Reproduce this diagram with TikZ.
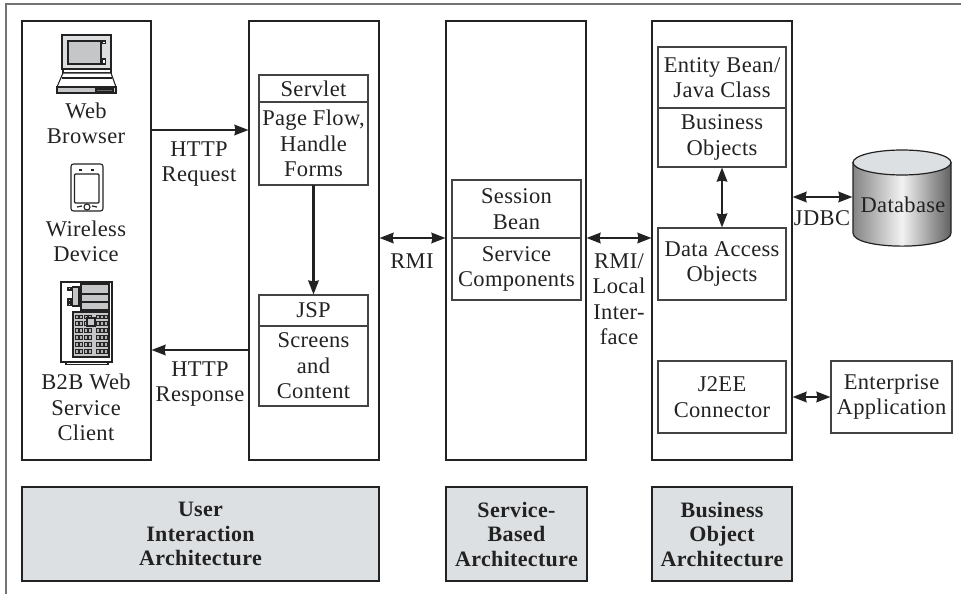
\documentclass[tikz,border=0pt]{standalone}
\usepackage{fontspec}
\setmainfont[LetterSpace=1.5]{Liberation Serif}
\usetikzlibrary{arrows.meta}
\definecolor{ink}{HTML}{222222}
\definecolor{panel}{HTML}{DDE0E2}
\definecolor{iconfill}{HTML}{C4C6C8}
\tikzset{
  txt/.style={text=ink,align=center,inner sep=0pt,outer sep=0pt,font=\fontsize{22.5}{25.5}\selectfont},
  colbox/.style={draw=ink,line width=1.8pt,inner sep=0pt,outer sep=0pt,minimum width=#1,minimum height=439pt},
  ibox/.style={txt,draw=ink!85,line width=1.2pt},
  catbox/.style={txt,draw=ink,line width=1.8pt,fill=panel,font=\fontsize{22}{24.5}\selectfont\bfseries},
  one/.style={ink,line width=2.2pt,-{Stealth[length=14pt,width=10.5pt,inset=1pt]},shorten >=0.5pt},
  two/.style={ink,line width=2.2pt,{Stealth[length=14pt,width=10.5pt,inset=1pt]}-{Stealth[length=14pt,width=10.5pt,inset=1pt]},shorten >=0.5pt,shorten <=0.5pt},
  ico/.style={draw=ink,line width=1.1pt},
}
\begin{document}
\begin{tikzpicture}[x=1pt,y=-1pt]
\useasboundingbox (0,0) rectangle (961,594);
% outer frame
\draw[color=black!55,line width=2pt] (961,4) -- (6,4) -- (6,594);
% columns
\node[colbox=129pt] (c1) at (86.5,240.5) {};
\node[colbox=130pt] (c2) at (314,240.5) {};
\node[colbox=140pt] (c3) at (516,240.5) {};
\node[colbox=140pt] (c4) at (722,240.5) {};
% category boxes
\node[catbox,minimum width=357pt,minimum height=94pt] (k1) at (200.5,534) {User\\Interaction\\Architecture};
\node[catbox,minimum width=141pt,minimum height=94pt] (k2) at (516.5,534) {Service-\\Based\\Architecture};
\node[catbox,minimum width=140pt,minimum height=94pt] (k3) at (722,534) {Business\\Object\\Architecture};
% servlet
\node[ibox,minimum width=109pt,minimum height=27pt] (srvT) at (313.5,88.5) {Servlet};
\node[ibox,minimum width=109pt,minimum height=83pt] (srvB) at (313.5,143.5) {Page Flow,\\Handle\\Forms};
% jsp
\node[ibox,minimum width=109pt,minimum height=31pt] (jspT) at (313.5,310.5) {JSP};
\node[ibox,minimum width=109pt,minimum height=80pt] (jspB) at (313.5,366) {Screens\\and\\Content};
% session
\node[ibox,minimum width=129pt,minimum height=58pt] (sesT) at (516.5,209) {Session\\Bean};
\node[ibox,minimum width=129pt,minimum height=62pt] (sesB) at (516.5,269) {Service\\Components};
% entity
\node[ibox,minimum width=128pt,minimum height=61pt] (entT) at (722,77.5) {Entity Bean/\\Java Class};
\node[ibox,minimum width=128pt,minimum height=59pt] (entB) at (722,137.5) {Business\\Objects};
\node[ibox,minimum width=128pt,minimum height=72pt] (dao) at (722,264) {Data Access\\Objects};
\node[ibox,minimum width=128pt,minimum height=72pt] (j2ee) at (722,397) {J2EE\\Connector};
\node[ibox,minimum width=121pt,minimum height=72pt] (ent) at (891.5,397) {Enterprise\\Application};
% left column labels
\node[txt] (lWeb) at (86,123.5) {Web\\Browser};
\node[txt] (lWire) at (86,241.5) {Wireless\\Device};
\node[txt] (lB2B) at (86,407.5) {B2B Web\\Service\\Client};
% connector labels
\node[txt] (lReq) at (199,164) {HTTP\\Request};
\node[txt] (lResp) at (200,384) {HTTP\\Response};
\node[txt] (lRmi) at (412,261) {RMI};
\node[txt] (lLocal) at (619,299) {RMI/\\Local\\Inter-\\face};
\node[txt] (lJdbc) at (822,218) {JDBC};
% database
\shade[left color=black!48,right color=black!62,middle color=black!5,draw=ink,line width=1.2pt]
  (853,162.5) -- (853,233) .. controls (853,250.5) and (951,250.5) .. (951,233) -- (951,162.5) -- cycle;
\draw[ink,line width=1.2pt,fill=panel] (902,162.5) ellipse[x radius=49,y radius=12.5];
\node[txt] (db) at (903,205) {Database};
\coordinate (dbW) at (853,197);
% arrow levels
\coordinate (yReq) at (0,130);
\coordinate (yResp) at (0,350);
\coordinate (yDb) at (0,197);
\draw[one] (c1.east |- yReq) -- (c2.west |- yReq);
\draw[one] (c2.west |- yResp) -- (c1.east |- yResp);
\draw[one] (srvB.south) -- (jspT.north);
\draw[two] (c2.east |- sesT.south) -- (c3.west |- sesT.south);
\draw[two] (c3.east |- sesT.south) -- (c4.west |- sesT.south);
\draw[two] (entB.south) -- (dao.north);
\draw[two] (c4.east |- yDb) -- (dbW);
\draw[two] (c4.east |- ent.west) -- (ent.west);
% laptop
\draw[ico,line width=1.5pt,fill=iconfill!60] (62,35) rectangle (111,69);
\draw[ico,fill=iconfill] (68,41) rectangle (101,64);
\draw[ico,fill=white] (102,41) rectangle (105.5,43.5);
\draw[ico,fill=white] (102,59) rectangle (105.5,64);
\draw[ico,fill=white] (63,69) rectangle (111,73);
\draw[ico,fill=white] (63,73) -- (111,73) -- (116,87) -- (57,87) -- cycle;
\draw[ico] (62,78) -- (112,78);
\draw[ico,fill=iconfill] (57,87) rectangle (116,93);
\draw[ico,fill=black!60] (96,89) rectangle (113,91.5);
% pda
\draw[ico,rounded corners=2.5pt] (71,164) rectangle (103,211);
\draw[ico,rounded corners=1pt] (74.5,174) rectangle (99,203);
\draw[ico,fill=white] (87,207) circle[radius=3];
\draw[ico,line width=1.4pt] (79,170) -- (82,170) (91,170) -- (94,170);
\draw[ico,line width=1.2pt] (77,207) -- (82,206) (92,206) -- (97,207);
% server
\draw[ico] (61,282) rectangle (112,362);
\draw[ico] (66,362) rectangle (108,364.5);
\draw[ico,fill=iconfill] (81,284) rectangle (109,294);
\draw[ico,fill=iconfill] (81,294) rectangle (109,302);
\draw[ico,fill=iconfill] (81,302) rectangle (109,310);
\draw[ico,fill=iconfill] (72.5,287) rectangle (79,306);
\draw[ico,fill=iconfill] (68,287.5) rectangle (71,290);
\draw[ico,fill=iconfill] (68,299) rectangle (71,301.5);
\draw[ico,fill=iconfill] (68,303) rectangle (71,305.5);
\draw[ico,fill=iconfill] (73,312) rectangle (109,357);
\foreach \r in {0,...,5}{
  \foreach \k in {0,...,3}{
    \draw[black!85,line width=0.9pt,fill=black!30] ({75+\k*4.5},{315+\r*6.9}) rectangle ++(3.4,3.8);
  }
  \foreach \k in {0,1,2}{
    \draw[black!85,line width=0.9pt,fill=black!30] ({96+\k*4.2},{315+\r*6.9}) rectangle ++(3.2,3.8);
  }
}
\draw[ico,fill=iconfill] (87,318) rectangle (95,326);
\end{tikzpicture}
\end{document}
